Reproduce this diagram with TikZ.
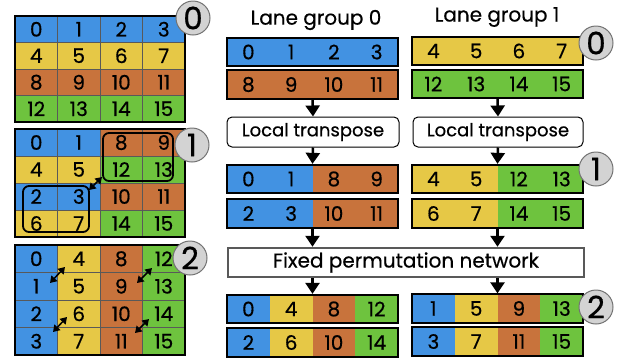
\documentclass[tikz,border=0pt]{standalone}
\usepackage{fontspec}
\setmainfont{Poppins}[UprightFeatures={FakeBold=0.5}]
\usetikzlibrary{arrows.meta}
\definecolor{c0}{RGB}{66,146,226}
\definecolor{c1}{RGB}{230,200,70}
\definecolor{c2}{RGB}{200,115,60}
\definecolor{c3}{RGB}{110,195,62}
\definecolor{ringgray}{RGB}{211,211,211}
\tikzset{
  cell/.style={draw=black!65, line width=0.6pt, inner sep=0pt, minimum width=42.5pt, font=\fontsize{20}{20}\selectfont},
  barcell/.style={inner sep=0pt, minimum height=28.5pt, font=\fontsize{20}{20}\selectfont},
  barframe/.style={draw=black, line width=1.8pt, inner sep=0pt, minimum height=28.5pt},
  ring/.style={circle, fill=ringgray, draw=black!55, line width=1pt, minimum size=34pt, inner sep=0pt, font=\fontsize{31}{31}\selectfont},
  stagebox/.style={draw=black, line width=1pt, rounded corners=5pt, fill=white, minimum height=30pt, inner sep=0pt, font=\fontsize{18}{18}\selectfont},
  permbox/.style={draw=black!65, line width=2.5pt, fill=white, minimum height=29pt, inner sep=0pt, font=\fontsize{20}{20}\selectfont},
  flow/.style={line width=2.5pt, -{Triangle[width=14pt,length=11pt]}},
  swap/.style={line width=1.5pt, {Triangle[width=8pt,length=6.5pt]}-{Triangle[width=8pt,length=6.5pt]}},
  groupbox/.style={draw=black, line width=1.8pt, rounded corners=6pt, inner sep=0pt},
  heading/.style={font=\fontsize{20}{20}\selectfont, inner sep=0pt}
}
\begin{document}
\begin{tikzpicture}[x=1pt,y=-1pt]
\useasboundingbox (0,0) rectangle (635,360);
% ---------- left grids ----------
% grid 0
\foreach \r in {0,...,3}{
  \foreach \c in {0,...,3}{
    \pgfmathtruncatemacro{\n}{4*\r+\c}
    \node[cell, minimum height=26.5pt, fill=c\r] (ga-\r-\c) at ({15+42.5*(\c+0.5)},{16+26.5*(\r+0.5)}) {\n};
  }
}
\draw[line width=1.8pt] (ga-0-0.north west) rectangle (ga-3-3.south east);
% grid 1
\foreach \r/\a/\b/\cc/\d in {0/0/1/8/9,1/4/5/12/13,2/2/3/10/11,3/6/7/14/15}{
  \foreach \c/\n in {0/\a,1/\b,2/\cc,3/\d}{
    \pgfmathtruncatemacro{\k}{int(\n/4)}
    \node[cell, minimum height=27pt, fill=c\k] (gb-\r-\c) at ({15+42.5*(\c+0.5)},{129+27*(\r+0.5)}) {\n};
  }
}
\draw[line width=1.8pt] (gb-0-0.north west) rectangle (gb-3-3.south east);
% grid 2
\foreach \r in {0,...,3}{
  \foreach \c in {0,...,3}{
    \pgfmathtruncatemacro{\n}{4*\c+\r}
    \node[cell, minimum height=27.5pt, fill=c\c] (gc-\r-\c) at ({15+42.5*(\c+0.5)},{245+27.5*(\r+0.5)}) {\n};
  }
}
\draw[line width=1.8pt] (gc-0-0.north west) rectangle (gc-3-3.south east);
% group boxes in grid 1
\node[groupbox, minimum width=70pt, minimum height=48pt] (gtop) at (138,157) {};
\node[groupbox, minimum width=66pt, minimum height=46pt] (gbot) at (56,209) {};
\coordinate (s1a) at (89,190); \coordinate (s1b) at (102,177);
\draw[swap] (s1a) -- (s1b);
% swaps in grid 2
\coordinate (s2a) at (50,283); \coordinate (s2b) at (65,267);
\coordinate (s3a) at (137,283); \coordinate (s3b) at (152,268);
\coordinate (s4a) at (53,332); \coordinate (s4b) at (67,317);
\coordinate (s5a) at (135,333); \coordinate (s5b) at (149,319);
\draw[swap] (s2a) -- (s2b);
\draw[swap] (s3a) -- (s3b);
\draw[swap] (s4a) -- (s4b);
\draw[swap] (s5a) -- (s5b);
% rings left
\node[ring] (ra) at (193,18) {0};
\node[ring] (rb) at (192,145) {1};
\node[ring] (rc) at (190,258) {2};
% ---------- right side ----------
\node[heading] (h0) at (316,20) {Lane group 0};
\node[heading] (h1) at (497,17) {Lane group 1};
\foreach \nm/\xl/\yc/\a/\b/\cc/\d in {
  p0/227/52/0/1/2/3, p1/227/84.5/8/9/10/11,
  q0/412/51/4/5/6/7, q1/412/84/12/13/14/15,
  p2/227/179/0/1/8/9, p3/227/213.5/2/3/10/11,
  q2/412/179/4/5/12/13, q3/412/213.5/6/7/14/15,
  p4/227/309/0/4/8/12, p5/227/342.5/2/6/10/14,
  q4/412/308.5/1/5/9/13, q5/412/341.5/3/7/11/15}{
  \foreach \c/\n in {0/\a,1/\b,2/\cc,3/\d}{
    \pgfmathtruncatemacro{\k}{int(\n/4)}
    \node[barcell, minimum width=42.75pt, fill=c\k] (\nm-\c) at ({\xl+42.75*(\c+0.5)},\yc) {\n};
  }
  \node[barframe, minimum width=171pt] (\nm) at ({\xl+85.5},\yc) {};
}
\node[ring] (rd) at (596,43) {0};
\node[ring] (re) at (596,169) {1};
\node[ring] (rf) at (596,307) {2};
\node[stagebox, minimum width=172pt] (lt0) at (313,132) {Local transpose};
\node[stagebox, minimum width=170pt] (lt1) at (498,132) {Local transpose};
\node[permbox, minimum width=356pt] (perm) at (406,262.5) {Fixed permutation network};
\draw[flow] (p1.south) -- (lt0.north);
\draw[flow] (q1.south) -- (lt1.north);
\draw[flow] (lt0.south) -- (p2.north);
\draw[flow] (lt1.south) -- (q2.north);
\draw[flow] (p3.south) -- (perm.north -| p3.south);
\draw[flow] (q3.south) -- (perm.north -| q3.south);
\draw[flow] (perm.south -| p4.north) -- (p4.north);
\draw[flow] (perm.south -| q4.north) -- (q4.north);
\end{tikzpicture}
\end{document}
